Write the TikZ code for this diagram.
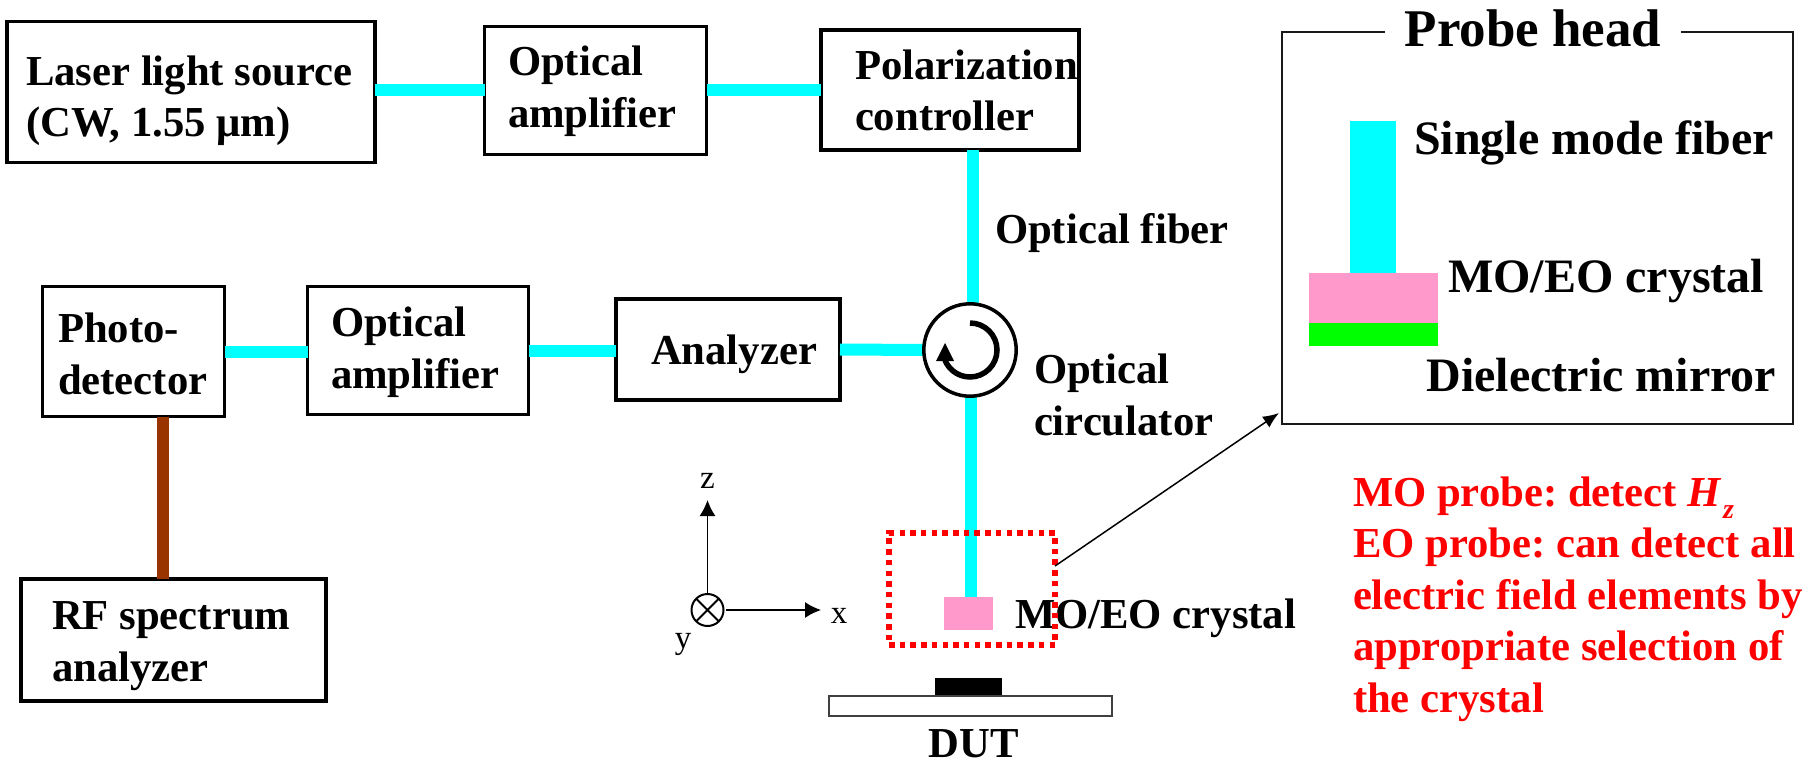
\documentclass[tikz,border=0pt]{standalone}
\usepackage{fontspec}
\setmainfont{Liberation Serif}
\definecolor{fibercol}{HTML}{00FFFF}
\definecolor{pinkcol}{HTML}{FF99CC}
\definecolor{greencol}{HTML}{00FF00}
\definecolor{browncol}{HTML}{993300}
\definecolor{redcol}{HTML}{FF0000}
\newcommand{\fa}{\fontsize{42.7}{51.5}\selectfont\bfseries\frenchspacing}
\newcommand{\fb}{\fontsize{48}{52}\selectfont\bfseries\frenchspacing}
\newcommand{\fc}{\fontsize{53}{56}\selectfont\bfseries}
\newcommand{\fd}{\fontsize{33}{36}\selectfont}
\usetikzlibrary{arrows.meta}
\tikzset{
  box/.style={draw=black,line width=3.2pt,fill=white,inner sep=0pt,outer sep=0pt},
  lab/.style={anchor=base west,inner sep=0pt,outer sep=0pt,align=left,font=\fa},
  blab/.style={lab,font=\fb},
  redlab/.style={lab,text=redcol,font=\fa},
  axlab/.style={anchor=base,inner sep=0pt,outer sep=0pt,font=\fd},
  fiber/.style={draw=fibercol,line width=12pt},
  rflink/.style={draw=browncol,line width=12pt},
  solid block/.style={inner sep=0pt,outer sep=0pt,draw=none},
  thin arrow/.style={draw=black,line width=1.5pt,-{Latex[length=16pt,width=16pt]}}
}
\begin{document}
\begin{tikzpicture}[x=1pt,y=-1pt]
\useasboundingbox (0,0) rectangle (1809,759);
% boxes
\node[box,minimum width=368pt,minimum height=141pt] (laser) at (191,92) {};
\node[box,minimum width=222pt,minimum height=128pt] (amp1) at (595.5,90.5) {};
\node[box,minimum width=258pt,minimum height=120pt] (pol) at (950,90) {};
\node[box,minimum width=182pt,minimum height=130pt] (photo) at (133.5,351.5) {};
\node[box,minimum width=221pt,minimum height=128pt] (amp2) at (418,350.5) {};
\node[box,minimum width=224pt,minimum height=101pt] (anal) at (728,349.5) {};
\node[box,minimum width=305pt,minimum height=122pt] (rf) at (173.5,640) {};
\node[draw=none,circle,minimum size=93pt,inner sep=0pt,outer sep=0pt] (circ) at (970,350) {};
% crystal at the end of the fibre
\node[solid block,fill=pinkcol,minimum width=49pt,minimum height=33pt] (xtal) at (968.5,613.5) {};
% connectors
\draw[fiber] (laser.east |- amp1.west) -- (amp1.west);
\draw[fiber] (amp1.east) -- (amp1.east -| pol.west);
\draw[fiber] (photo.east) -- (photo.east -| amp2.west);
\draw[fiber] (amp2.east) -- (amp2.east -| anal.west);
\draw[fiber] (anal.east) -- (circ.west);
\draw[fiber] ([xshift=3pt]circ.north) -- ([xshift=3pt]circ.north |- pol.south);
\draw[fiber] ([xshift=1pt]circ.south) -- ([xshift=1pt]circ.south |- xtal.north);
\draw[rflink] ([xshift=29.5pt]photo.south) -- ([xshift=29.5pt]photo.south |- rf.north);
% circulator
\draw[black,line width=3.5pt,fill=white] (circ) circle[radius=46.2pt];
\draw[black,line width=5.5pt] (970,323) arc[start angle=90,end angle=-170,radius=27pt];
\fill[black] (945,343) -- (936,361) -- (954,361) -- cycle;
% labels (the base of a multi-line label is its last line)
\node[lab] (tlaser) at (26,137) {Laser light source\\(CW, 1.55 μm)};
\node[lab] (tamp1) at (508,127.5) {Optical\\amplifier};
\node[lab] (tpol) at (855,131) {Polarization\\controller};
\node[lab] (tphoto) at (58,394) {Photo-\\detector};
\node[lab] (tamp2) at (331,388) {Optical\\amplifier};
\node[lab] (tanal) at (651,364) {Analyzer};
\node[lab] (tfiber) at (995,244) {Optical fiber};
\node[lab] (tcirc) at (1034,435) {Optical\\circulator};
\node[lab] (trf) at (52,681) {RF spectrum\\analyzer};
\node[lab] (txtal) at (1015,628) {MO/EO crystal};
% device under test
\node[solid block,fill=black,minimum width=67pt,minimum height=19pt] (chip) at (968.5,687.5) {};
\node[draw=black!75,line width=2pt,fill=white,inner sep=0pt,outer sep=0pt,minimum width=283pt,minimum height=20pt] (sub) at (970.5,706) {};
\node[lab,anchor=base] (tdut) at (974,757) {DUT};
% dotted frame
\node[draw=redcol,line width=5.5pt,dash pattern=on 5.5pt off 5.2pt,inner sep=0pt,outer sep=0pt,minimum width=166pt,minimum height=112pt] (frame) at (972,589) {};
% axes
\node[draw=black,line width=2pt,circle,minimum size=32pt,inner sep=0pt,outer sep=0pt] (origin) at (707.5,610) {};
\draw[black,line width=2pt] (origin.north west) -- (origin.south east) (origin.north east) -- (origin.south west);
\coordinate (ztip) at (707.5,500);
\coordinate (xtip) at (821,610);
\draw[thin arrow] (origin.north) -- (ztip);
\draw[thin arrow] ([xshift=2pt]origin.east) -- (xtip);
\node[axlab] (tz) at (707.5,488) {z};
\node[axlab] (tx) at (839,623) {x};
\node[axlab] (ty) at (683,648) {y};
% probe head
\node[draw=black!90,line width=2.5pt,inner sep=0pt,outer sep=0pt,minimum width=511pt,minimum height=392pt] (probe) at (1537.5,228) {};
\node[fill=white,inner xsep=20pt,inner ysep=0pt,outer sep=0pt,anchor=base,font=\fc] (tprobe) at (1533,47) {Probe head};
\node[solid block,fill=fibercol,minimum width=46pt,minimum height=152pt] (pfiber) at (1373,197) {};
\node[solid block,fill=pinkcol,minimum width=129pt,minimum height=50pt] (pxtal) at (1373.5,298) {};
\node[solid block,fill=greencol,minimum width=129pt,minimum height=23pt] (pmirror) at (1373.5,334.5) {};
\node[blab] (tsmf) at (1414,155) {Single mode fiber};
\node[blab] (tpx) at (1448,293) {MO/EO crystal};
\node[blab] (tpm) at (1426.5,391) {Dielectric mirror};
% zoom arrow
\draw[draw=black,line width=1.5pt,-{Latex[length=16pt,width=13pt]}] ([yshift=23pt]frame.east) -- ([shift={(-3pt,11pt)}]probe.south west);
% red note
\node[redlab] (tnote) at (1353,712) {MO probe: detect \textit{H}\kern1pt\raisebox{-12pt}{\fontsize{28}{28}\selectfont\textit{z}}\\EO probe: can detect all\\electric field elements by\\appropriate selection of\\the crystal};
\end{tikzpicture}
\end{document}
